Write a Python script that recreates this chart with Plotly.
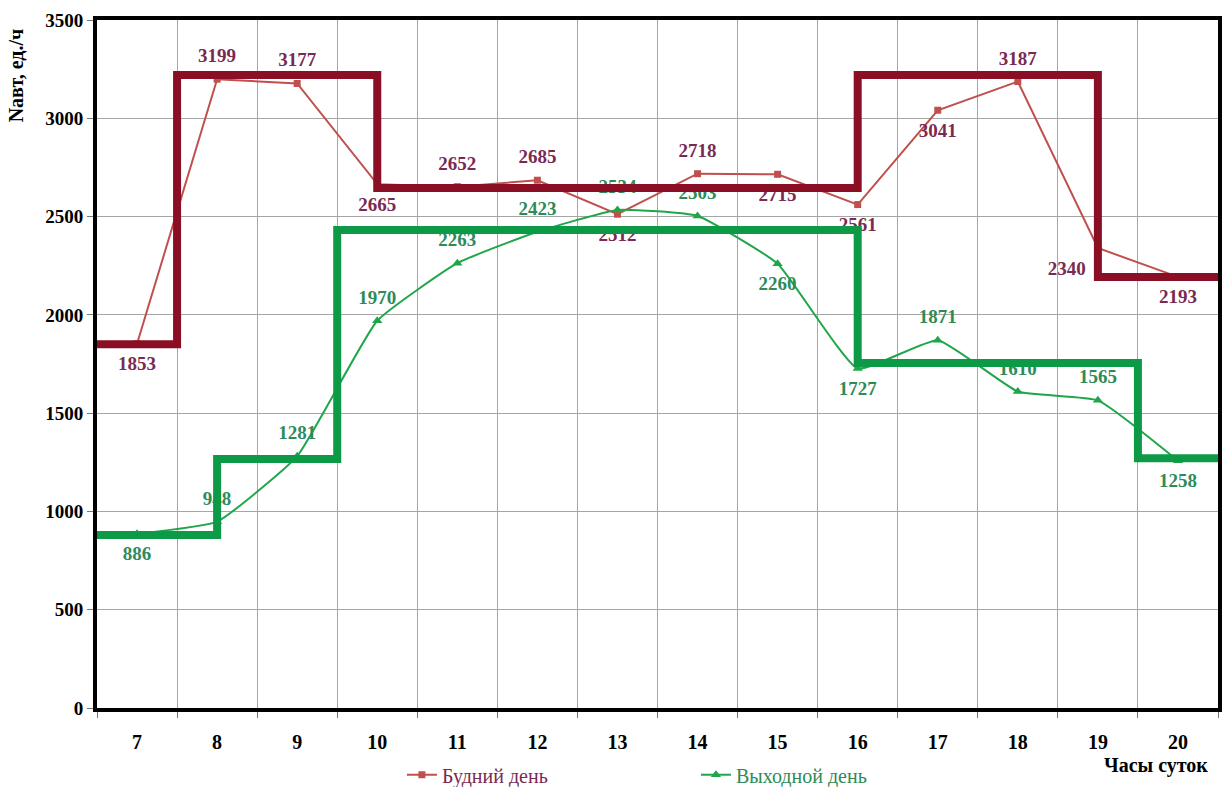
import plotly.graph_objects as go

hours = [7, 8, 9, 10, 11, 12, 13, 14, 15, 16, 17, 18, 19, 20]
weekday = [1853, 3199, 3177, 2665, 2652, 2685, 2512, 2718, 2715, 2561, 3041, 3187, 2340, 2193]
weekend = [886, 948, 1281, 1970, 2263, 2423, 2534, 2503, 2260, 1727, 1871, 1610, 1565, 1258]

weekday_pos = ["bottom center", "top center", "top center", "bottom center", "top center", "top center",
               "bottom center", "top center", "bottom center", "bottom center", "bottom center", "top center",
               "bottom left", "bottom center"]
weekend_pos = ["bottom center", "top center", "top center", "top center", "top center", "top center",
               "top center", "top center", "bottom center", "bottom center", "top center", "top center",
               "top center", "bottom center"]

# step (averaged regime) levels
weekday_step_x = [6.5, 7.5, 10, 16, 19, 20.5]
weekday_step_y = [1850, 3220, 2645, 3220, 2193, 2193]
weekend_step_x = [6.5, 8, 9.5, 16, 19.5, 20.5]
weekend_step_y = [880, 1267, 2432, 1755, 1270, 1270]

y_ticks = [0, 500, 1000, 1500, 2000, 2500, 3000, 3500]
grid_x = [h - 0.5 for h in hours] + [hours[-1] + 0.5]

SERIF = "Liberation Serif"
C_WD_LINE = "#C0504D"
C_WD_TEXT = "#7A2A52"
C_WE_LINE = "#1FA64A"
C_WE_TEXT = "#2E8B57"
C_WD_STEP = "#8A0F24"
C_WE_STEP = "#0C9A46"

fig = go.Figure()

fig.add_trace(go.Scatter(
    x=hours, y=weekday, mode="lines+markers",
    name="<span style='color:#7A2A52;font-family:\"Liberation Serif\",serif'>Будний день</span>",
    line=dict(color=C_WD_LINE, width=2),
    marker=dict(symbol="square", size=7, color=C_WD_LINE),
))
fig.add_trace(go.Scatter(
    x=hours, y=weekend, mode="lines+markers",
    name="<span style='color:#2E8B57;font-family:\"Liberation Serif\",serif'>Выходной день</span>",
    line=dict(color=C_WE_LINE, width=2, shape="spline", smoothing=0.4),
    marker=dict(symbol="triangle-up", size=9, color=C_WE_LINE),
))
# data labels (invisible carrier markers give extra label offset)
fig.add_trace(go.Scatter(
    x=hours, y=weekday, mode="markers+text", showlegend=False, hoverinfo="skip",
    marker=dict(size=18, opacity=0),
    text=[str(v) for v in weekday], textposition=weekday_pos,
    textfont=dict(family=SERIF, size=19, color=C_WD_TEXT, weight="bold"),
    cliponaxis=False,
))
fig.add_trace(go.Scatter(
    x=hours, y=weekend, mode="markers+text", showlegend=False, hoverinfo="skip",
    marker=dict(size=18, opacity=0),
    text=[str(v) for v in weekend], textposition=weekend_pos,
    textfont=dict(family=SERIF, size=19, color=C_WE_TEXT, weight="bold"),
    cliponaxis=False,
))
fig.add_trace(go.Scatter(
    x=weekday_step_x, y=weekday_step_y, mode="lines", line=dict(color=C_WD_STEP, width=8, shape="hv"),
    showlegend=False, hoverinfo="skip",
))
fig.add_trace(go.Scatter(
    x=weekend_step_x, y=weekend_step_y, mode="lines", line=dict(color=C_WE_STEP, width=8, shape="hv"),
    showlegend=False, hoverinfo="skip",
))

fig.update_layout(
    width=1223, height=787,
    margin=dict(l=97, r=5, t=20, b=79, autoexpand=False),
    paper_bgcolor="white", plot_bgcolor="white",
    font=dict(family=SERIF, size=19, color="black"),
    legend=dict(orientation="h", x=0.272, y=-0.097, xanchor="left", yanchor="middle",
                font=dict(family=SERIF, size=20), itemwidth=30,
                entrywidth=249, entrywidthmode="pixels", tracegroupgap=0),
    showlegend=True,
)
fig.update_xaxes(
    range=[6.5, 20.5], tickvals=hours, ticktext=[str(h) for h in hours],
    showgrid=False, ticks="", ticklabelstandoff=13, automargin=False,
    tickfont=dict(family=SERIF, size=20, weight="bold"),
    showline=True, linecolor="black", linewidth=4, mirror=True, zeroline=False,
    minor=dict(tickvals=grid_x, showgrid=True, gridcolor="#A6A6A6", gridwidth=1,
               ticks="outside", ticklen=6, tickcolor="#777"),
)
fig.update_yaxes(
    range=[0, 3500], tickvals=y_ticks, showgrid=True, gridcolor="#A6A6A6", gridwidth=1,
    ticks="outside", ticklen=6, tickcolor="#777", automargin=False,
    tickfont=dict(family=SERIF, size=19, weight="bold"),
    showline=True, linecolor="black", linewidth=4, mirror=True, zeroline=False,
)
fig.add_annotation(text="<b>Часы суток</b>", xref="paper", yref="paper", x=0.993, y=-0.083,
                   xanchor="right", yanchor="middle", showarrow=False,
                   font=dict(family=SERIF, size=20, color="black"))
fig.add_annotation(text="<b>Nавт, ед./ч</b>", xref="paper", yref="paper", x=-0.072, y=0.92,
                   xanchor="center", yanchor="middle", textangle=-90, showarrow=False,
                   font=dict(family=SERIF, size=20, color="black"))

fig.write_html("out.html", config={"displayModeBar": False},
               post_script="document.body.style.margin='0';document.body.style.overflow='hidden';")
